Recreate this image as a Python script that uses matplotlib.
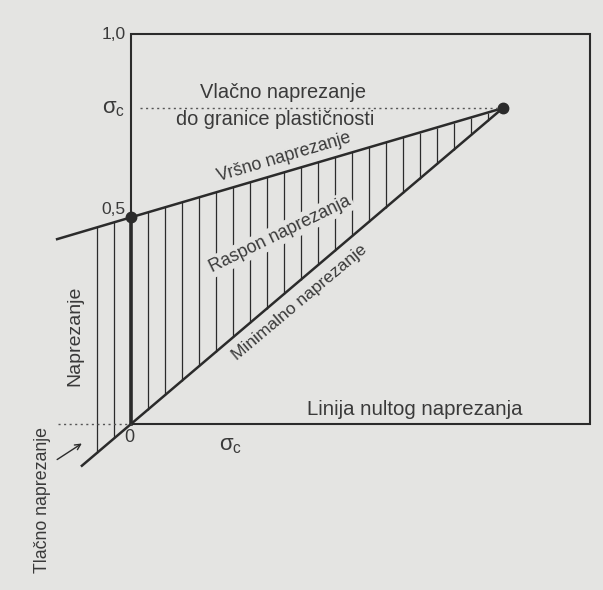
import matplotlib.pyplot as plt
import numpy as np

plt.rcParams['font.family'] = ['Liberation Sans', 'DejaVu Sans']
plt.rcParams['mathtext.fontset'] = 'custom'
plt.rcParams['mathtext.rm'] = 'Liberation Sans'
plt.rcParams['mathtext.it'] = 'Liberation Sans:italic'

# podaci (dijagram u jedinicama okvira 0..1)
sigma_c = 0.81                 # granica plasticnosti
peak_zero = 0.53               # vrsno naprezanje pri srednjem 0 ("0,5")
max_x = [-0.161, 0.0, sigma_c]
max_y = [0.474, peak_zero, sigma_c]
min_x = [-0.107, 0.0, sigma_c]
min_y = [-0.107, 0.0, sigma_c]
ytick_vals = [peak_zero, sigma_c, 1.0]
ytick_labels = ['0,5', r'$\mathrm{\sigma_c}$', '1,0']
hatch_n = (-2, 21)             # broj crta lijevo / desno od osi

bg = '#e4e4e2'
ink = '#2b2b2b'
txt = '#3a3a3a'

fig = plt.figure(figsize=(6.03, 5.90), dpi=100, facecolor=bg)
ax = fig.add_axes([0, 0, 1, 1])
ax.set_facecolor(bg)
ax.set_xlim(-0.2854, 1.0283)
ax.set_ylim(-0.4256, 1.0872)
ax.axis('off')

# okvir
ax.plot([0, 0, 1, 1, 0], [0, 1, 1, 0, 0], color=ink, lw=1.5, solid_joinstyle='miter')
ax.plot([0, 0], [0, peak_zero], color=ink, lw=2.6)

# srafura
d = 0.037
k = np.arange(hatch_n[0], hatch_n[1] + 1)
k = k[k != 0]
hx = k * d
ax.vlines(hx, np.interp(hx, min_x, min_y), np.interp(hx, max_x, max_y),
          color=ink, lw=0.9)

# vrsno i minimalno naprezanje
ax.plot(max_x, max_y, color=ink, lw=1.8)
ax.plot(min_x, min_y, color=ink, lw=1.8)
ax.plot([0, sigma_c], [peak_zero, sigma_c], 'o', color=ink, ms=7.5)

# isprekidane crte
ax.plot([0.02, sigma_c - 0.01], [sigma_c, sigma_c], ls=(0, (1.5, 2.5)), color='#555555', lw=1)
ax.plot([-0.16, 0], [0, 0], ls=(0, (1.5, 2.5)), color='#555555', lw=1)

# oznake osi
for v, lab in zip(ytick_vals, ytick_labels):
    dy = 0.02 if v == peak_zero else 0.0
    fs = 16 if 'sigma' in lab else 12.5
    ax.text(-0.012, v + dy, lab, ha='right', va='center', fontsize=fs, color=txt)
ax.text(-0.004, -0.035, '0', ha='center', va='center', fontsize=13, color=txt)
ax.text(0.216, -0.055, r'$\mathrm{\sigma_c}$', ha='center', va='center', fontsize=16, color=txt)

# natpisi
ax.text(0.331, 0.849, 'Vlačno naprezanje', ha='center', va='center', fontsize=14.4, color=txt)
ax.text(0.314, 0.782, 'do granice plastičnosti', ha='center', va='center', fontsize=14.4, color=txt)
ax.text(0.333, 0.684, 'Vršno naprezanje', ha='center', va='center', fontsize=12.8,
        color=txt, rotation=16.5, rotation_mode='anchor')
ax.text(0.325, 0.487, 'Raspon naprezanja', ha='center', va='center', fontsize=12.9,
        color=txt, rotation=26, rotation_mode='anchor',
        bbox=dict(facecolor=bg, edgecolor='none', pad=1.5))
ax.text(0.368, 0.313, 'Minimalno naprezanje', ha='center', va='center', fontsize=12.5,
        color=txt, rotation=40, rotation_mode='anchor')
ax.text(-0.122, 0.226, 'Naprezanje', ha='center', va='center', fontsize=14,
        color=txt, rotation=90)
ax.text(0.619, 0.036, 'Linija nultog naprezanja', ha='center', va='center', fontsize=14.7, color=txt)
ax.text(-0.192, -0.195, 'Tlačno naprezanje', ha='center', va='center', fontsize=12.8,
        color=txt, rotation=90)
ax.annotate('', xy=(-0.102, -0.046), xytext=(-0.166, -0.095),
            arrowprops=dict(arrowstyle='->', color=ink, lw=1))

fig.savefig('out.png', dpi=100, facecolor=bg)
